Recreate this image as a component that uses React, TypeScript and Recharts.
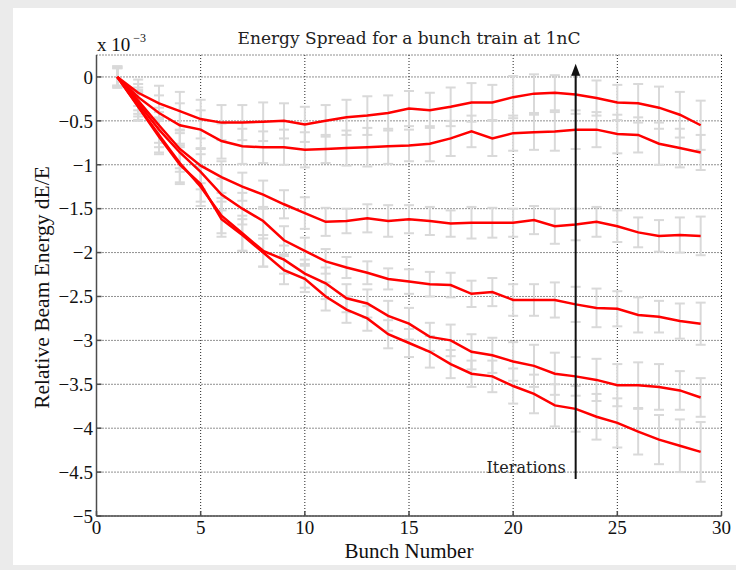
import React from 'react';
import { LineChart, Line, XAxis, YAxis, CartesianGrid, ErrorBar, ReferenceLine } from 'recharts';

// bunch index along the train
const bunches = [1, 2, 3, 4, 5, 6, 7, 8, 9, 10, 11, 12, 13, 14, 15, 16, 17, 18, 19, 20, 21, 22, 23, 24, 25, 26, 27, 28, 29];

// relative energy (x 1e-3), one curve per iteration
const iterA = [0, -0.18, -0.3, -0.39, -0.48, -0.52, -0.52, -0.51, -0.5, -0.54, -0.5, -0.46, -0.44, -0.41, -0.36, -0.38, -0.34, -0.29, -0.29, -0.23, -0.19, -0.18, -0.2, -0.24, -0.29, -0.3, -0.35, -0.43, -0.55];
const iterB = [0, -0.23, -0.41, -0.55, -0.6, -0.73, -0.79, -0.8, -0.8, -0.83, -0.82, -0.81, -0.8, -0.79, -0.78, -0.76, -0.7, -0.62, -0.7, -0.64, -0.63, -0.62, -0.6, -0.6, -0.65, -0.66, -0.76, -0.81, -0.86];
const iterC = [0, -0.27, -0.55, -0.82, -1.01, -1.14, -1.25, -1.34, -1.45, -1.55, -1.65, -1.64, -1.61, -1.64, -1.62, -1.64, -1.67, -1.66, -1.66, -1.66, -1.63, -1.7, -1.68, -1.65, -1.7, -1.77, -1.81, -1.8, -1.81];
const iterD = [0, -0.3, -0.6, -0.86, -1.08, -1.34, -1.5, -1.64, -1.86, -1.98, -2.1, -2.17, -2.23, -2.3, -2.33, -2.36, -2.37, -2.47, -2.45, -2.54, -2.54, -2.54, -2.59, -2.63, -2.64, -2.71, -2.73, -2.78, -2.81];
const iterE = [0, -0.33, -0.66, -0.98, -1.25, -1.58, -1.78, -1.98, -2.08, -2.24, -2.35, -2.52, -2.58, -2.72, -2.81, -2.96, -3.0, -3.13, -3.17, -3.24, -3.29, -3.38, -3.41, -3.45, -3.51, -3.51, -3.53, -3.57, -3.65];
const iterF = [0, -0.34, -0.68, -1.0, -1.22, -1.62, -1.8, -2.0, -2.2, -2.3, -2.5, -2.65, -2.75, -2.93, -3.03, -3.13, -3.27, -3.38, -3.41, -3.52, -3.61, -3.74, -3.78, -3.87, -3.94, -4.04, -4.13, -4.2, -4.27];

// half-length of the error bars
const errA = [0.12, 0.15, 0.2, 0.22, 0.22, 0.2, 0.2, 0.22, 0.2, 0.2, 0.18, 0.2, 0.22, 0.2, 0.2, 0.2, 0.22, 0.22, 0.2, 0.24, 0.22, 0.2, 0.22, 0.2, 0.2, 0.22, 0.24, 0.26, 0.28];
const errB = [0.1, 0.15, 0.2, 0.25, 0.22, 0.2, 0.2, 0.18, 0.2, 0.2, 0.16, 0.2, 0.22, 0.2, 0.18, 0.2, 0.2, 0.18, 0.2, 0.2, 0.2, 0.22, 0.22, 0.2, 0.22, 0.2, 0.24, 0.22, 0.2];
const errC = [0.1, 0.15, 0.2, 0.22, 0.2, 0.18, 0.16, 0.16, 0.16, 0.18, 0.16, 0.14, 0.16, 0.18, 0.16, 0.16, 0.15, 0.18, 0.17, 0.16, 0.16, 0.2, 0.18, 0.17, 0.18, 0.17, 0.18, 0.2, 0.22];
const errD = [0.1, 0.15, 0.2, 0.22, 0.2, 0.18, 0.18, 0.16, 0.16, 0.15, 0.14, 0.12, 0.13, 0.12, 0.14, 0.14, 0.14, 0.15, 0.16, 0.18, 0.18, 0.2, 0.2, 0.22, 0.2, 0.2, 0.18, 0.2, 0.24];
const errE = [0.12, 0.16, 0.2, 0.22, 0.22, 0.2, 0.2, 0.18, 0.16, 0.16, 0.18, 0.16, 0.16, 0.17, 0.18, 0.16, 0.18, 0.2, 0.2, 0.22, 0.24, 0.24, 0.22, 0.24, 0.24, 0.26, 0.26, 0.22, 0.22];
const errF = [0.12, 0.16, 0.2, 0.22, 0.2, 0.2, 0.18, 0.16, 0.16, 0.15, 0.16, 0.15, 0.14, 0.16, 0.16, 0.18, 0.16, 0.15, 0.18, 0.2, 0.22, 0.24, 0.26, 0.26, 0.28, 0.26, 0.28, 0.3, 0.34];

const xTicks = [0, 5, 10, 15, 20, 25, 30];
const yTicks = [-5, -4.5, -4, -3.5, -3, -2.5, -2, -1.5, -1, -0.5, 0];

const series = [
  { key: 'a', values: iterA, errors: errA },
  { key: 'b', values: iterB, errors: errB },
  { key: 'c', values: iterC, errors: errC },
  { key: 'd', values: iterD, errors: errD },
  { key: 'e', values: iterE, errors: errE },
  { key: 'f', values: iterF, errors: errF },
];

const data = bunches.map((n, i) => {
  const row: Record<string, number> = { n };
  series.forEach((s) => {
    row[s.key] = s.values[i];
    row[s.key + 'Err'] = s.errors[i];
  });
  return row;
});

const serif = '"Liberation Serif", serif';
const titleFont = '"DejaVu Serif", serif';

const fmtY = (v: number) => (v === 0 ? '0' : '\u2212' + String(Math.abs(v)));

const Arrow = (props: any) => {
  const { x1, y1, y2 } = props;
  const top = Math.min(y1, y2);
  const bottom = Math.max(y1, y2);
  return (
    <g>
      <line x1={x1} y1={bottom} x2={x1} y2={top + 8} stroke="#111" strokeWidth={2} />
      <polygon points={`${x1},${top} ${x1 - 4.5},${top + 12} ${x1 + 4.5},${top + 12}`} fill="#111" />
      <text x={x1 - 10} y={bottom - 6} textAnchor="end" fontFamily={titleFont} fontSize={16} fill="#222">
        Iterations
      </text>
    </g>
  );
};

export default function App() {
  return (
    <div style={{ position: 'absolute', left: 0, top: 0, width: 736, height: 570, background: '#ebebeb' }}>
      <div style={{ position: 'absolute', left: 13, top: 8, right: 0, bottom: 5, background: '#fff' }} />
      <div
        style={{
          position: 'absolute', left: 209, top: 26, width: 400, textAlign: 'center',
          fontFamily: titleFont, fontSize: 17, color: '#222', lineHeight: '24px',
        }}
      >
        Energy Spread for a bunch train at 1nC
      </div>
      <div style={{ position: 'absolute', left: 97, top: 35, fontFamily: serif, fontSize: 19, lineHeight: '20px', color: '#111' }}>
        x 10<span style={{ position: 'relative', top: -9, fontSize: 12, marginLeft: 3 }}>{'\u2212'}3</span>
      </div>
      <div style={{ position: 'absolute', left: 0, top: 0 }}>
        <LineChart width={736} height={570} data={data} margin={{ top: 55, right: 14.5, bottom: 24, left: 36.5 }}>
          <CartesianGrid stroke="#222" strokeDasharray="1 2" strokeWidth={1} />
          <XAxis
            dataKey="n"
            type="number"
            domain={[0, 30]}
            ticks={xTicks}
            allowDataOverflow
            height={30}
            stroke="#4d4d4d"
            strokeWidth={1.5}
            tickSize={-5}
            tickMargin={10}
            tick={{ fontFamily: serif, fontSize: 19, fill: '#111' }}
            label={{ value: 'Bunch Number', position: 'insideBottom', offset: -12, fontFamily: serif, fontSize: 21, fill: '#111' }}
          />
          <YAxis
            type="number"
            domain={[-5, 0.25]}
            ticks={yTicks}
            allowDataOverflow
            width={60}
            stroke="#4d4d4d"
            strokeWidth={1.5}
            tickSize={-5}
            tickMargin={8.5}
            tickFormatter={fmtY}
            tick={{ fontFamily: serif, fontSize: 19, fill: '#111' }}
            label={{ value: 'Relative Beam Energy dE/E', angle: -90, position: 'center', dx: -25, dy: 2, fontFamily: serif, fontSize: 21.5, fill: '#111' }}
          />
          {series.map((s) => (
            <Line
              key={'bars-' + s.key}
              dataKey={s.key}
              stroke="none"
              dot={false}
              activeDot={false}
              isAnimationActive={false}
            >
              <ErrorBar dataKey={s.key + 'Err'} stroke="#d9d9d9" strokeWidth={2} width={5} direction="y" />
            </Line>
          ))}
          {series.map((s) => (
            <Line
              key={'line-' + s.key}
              dataKey={s.key}
              stroke="#ff0000"
              strokeWidth={2.5}
              dot={false}
              activeDot={false}
              isAnimationActive={false}
            />
          ))}
          <ReferenceLine
            segment={[{ x: 23, y: -4.58 }, { x: 23, y: 0.15 }]}
            ifOverflow="visible"
            shape={Arrow}
          />
        </LineChart>
      </div>
    </div>
  );
}
